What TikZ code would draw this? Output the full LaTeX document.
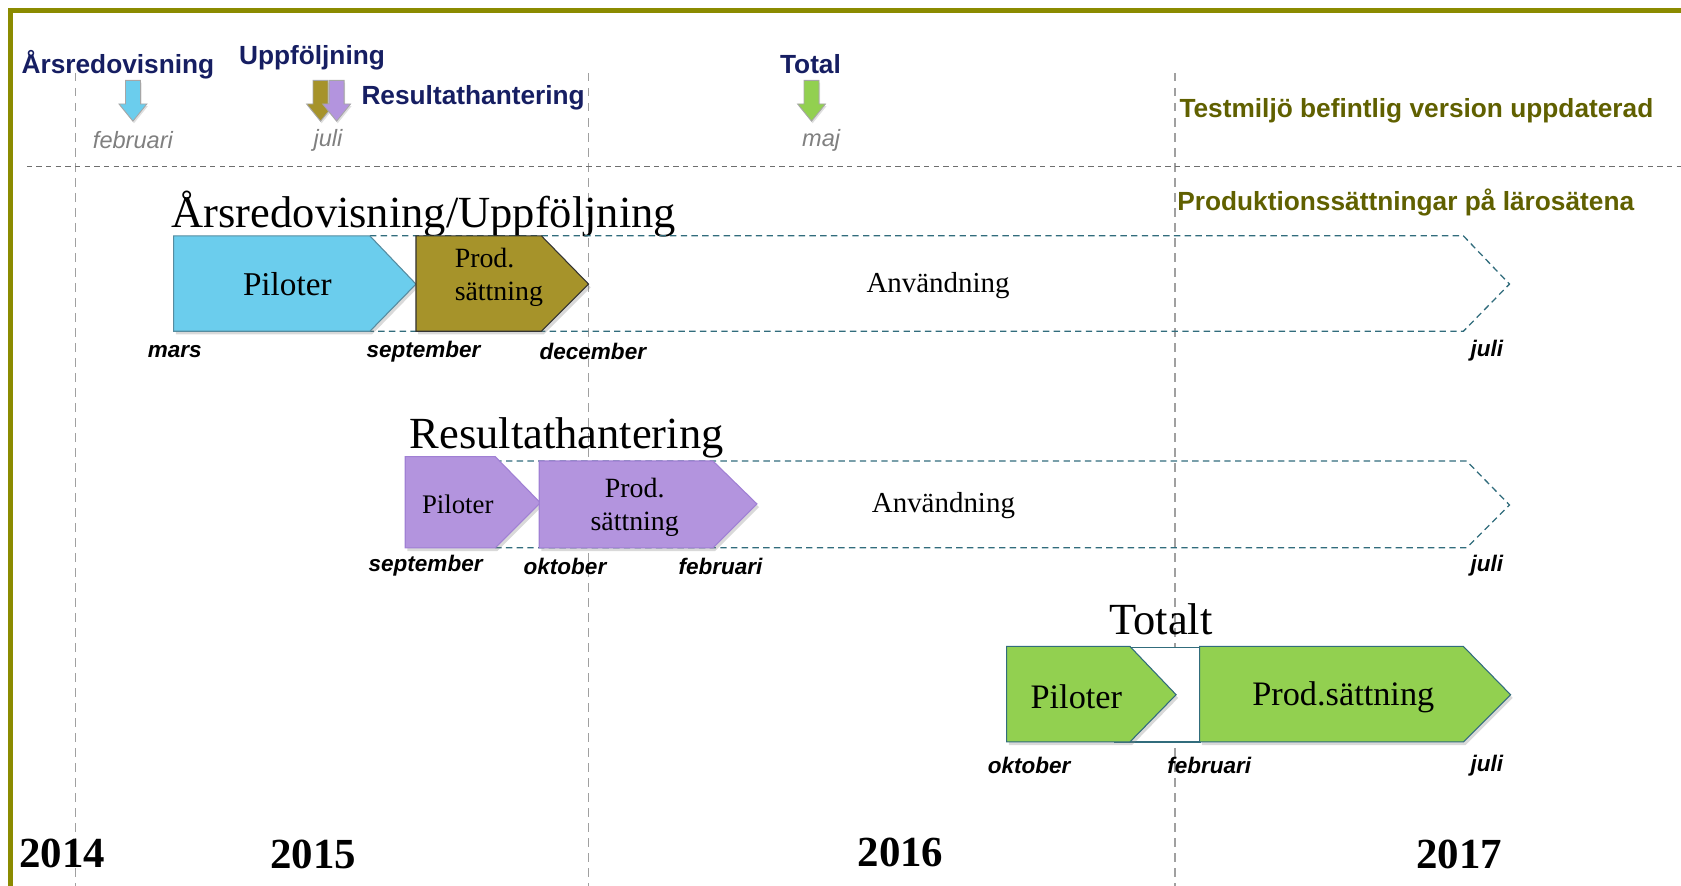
\documentclass[tikz,border=0pt]{standalone}
\usepackage{fontspec}
\setmainfont{Liberation Serif}
\setsansfont{Liberation Sans}
\usetikzlibrary{shadows}

\definecolor{frameolive}{RGB}{139,139,0}
\definecolor{navytext}{RGB}{22,30,98}
\definecolor{olivetext}{RGB}{96,96,0}
\definecolor{monthgray}{RGB}{128,128,128}
\definecolor{skyfill}{RGB}{107,205,237}
\definecolor{skyline}{RGB}{86,140,160}
\definecolor{olivefill}{RGB}{166,147,42}
\definecolor{lilacfill}{RGB}{179,148,222}
\definecolor{lilacline}{RGB}{160,128,212}
\definecolor{grassfill}{RGB}{146,208,80}
\definecolor{tealline}{RGB}{49,108,124}
\definecolor{gridgray}{RGB}{160,160,160}
\definecolor{rulegray}{RGB}{110,110,110}

\tikzset{
  phase/.style={line width=1pt, drop shadow={opacity=0.3, shadow xshift=2pt, shadow yshift=-3pt}},
  usebox/.style={draw=tealline, line width=1.2pt, dash pattern=on 6pt off 4pt},
  gridline/.style={draw=gridgray, line width=1pt, dash pattern=on 8pt off 6pt},
  toplbl/.style={inner sep=0pt, text=navytext, font=\sffamily\bfseries\fontsize{24.5}{24.5}\selectfont},
  olivelbl/.style={inner sep=0pt, text=olivetext, font=\sffamily\bfseries\fontsize{24.5}{24.5}\selectfont},
  graymonth/.style={inner sep=0pt, text=monthgray, font=\sffamily\itshape\fontsize{22}{22}\selectfont},
  monthlbl/.style={inner sep=0pt, font=\sffamily\bfseries\itshape\fontsize{21}{21}\selectfont},
  titlelbl/.style={inner sep=0pt, font=\fontsize{41.5}{41.5}\selectfont},
  phaselbl/.style={inner sep=0pt, align=center, font=\fontsize{26}{31}\selectfont},
  yearlbl/.style={inner sep=0pt, font=\bfseries\fontsize{40}{40}\selectfont}
}

% down arrow above the timeline: #1 = x, #2 = fill colour
\newcommand{\milestonearrow}[2]{%
  \filldraw[fill=#2, draw=gray!70, line width=0.8pt, drop shadow={opacity=0.25, shadow xshift=1pt, shadow yshift=-2pt}]
    (#1-7,75) -- (#1+7,75) -- (#1+7,97) -- (#1+13,97) -- (#1,113) -- (#1-13,97) -- (#1-7,97) -- cycle;}

\begin{document}
\begin{tikzpicture}[x=1pt,y=-1pt]
\useasboundingbox (0,0) rectangle (1568,826);

%Frame
\draw[frameolive, line width=4.5pt] (10,826) -- (10,10) -- (1568,10);

%Grid lines
\foreach \gx in {70,549,1096}
  \draw[gridline] (\gx,68) -- (\gx,826);
\draw[draw=rulegray, line width=1pt, dash pattern=on 5pt off 4pt] (25,155) -- (1568,155);

%Milestone arrows
\milestonearrow{124}{skyfill}
\milestonearrow{299}{olivefill}
\milestonearrow{314}{lilacfill}
\milestonearrow{757}{grassfill}

% Text Node
\node[toplbl] (arsTop) at (110,60) {Årsredovisning};
\node[toplbl] (uppTop) at (291,54) {Uppföljning};
\node[toplbl, anchor=west] (resTop) at (337,91) {Resultathantering};
\node[toplbl] (totTop) at (756,60) {Total};
\node[graymonth] (febTop) at (124,131) {februari};
\node[graymonth] (julTop) at (306,131) {juli};
\node[graymonth] (majTop) at (766,131) {maj};
\node[olivelbl, anchor=west] (testTxt) at (1100,103) {Testmiljö befintlig version uppdaterad};
\node[olivelbl, anchor=west] (prodTxt) at (1098,189) {Produktionssättningar på lärosätena};

%Row: Årsredovisning/Uppföljning
\node[titlelbl, anchor=west] (rowOneTitle) at (160,200) {Årsredovisning/Uppföljning};
\draw[usebox] (345,220) -- (1365,220) -- (1408,265) -- (1365,309) -- (345,309);
\filldraw[phase, fill=skyfill, draw=skyline] (162,220) -- (345,220) -- (388,265) -- (345,309) -- (162,309) -- cycle;
\filldraw[phase, fill=olivefill, draw=black!80] (388,220) -- (505,220) -- (549,265) -- (505,309) -- (388,309) -- cycle;
\node[phaselbl, font=\fontsize{31}{31}\selectfont] (pilOne) at (268,265) {Piloter};
\node[phaselbl, align=left, anchor=west] (prodOne) at (424,259) {Prod.\\sättning};
\node[phaselbl, font=\fontsize{27}{27}\selectfont] (useOne) at (875,266) {Användning};
\node[monthlbl] (marsOne) at (163,328) {mars};
\node[monthlbl] (sepOne) at (395,328) {september};
\node[monthlbl] (decOne) at (553,328) {december};
\node[monthlbl] (julOne) at (1387,327) {juli};

%Row: Resultathantering
\node[titlelbl, anchor=west] (rowTwoTitle) at (382,408) {Resultathantering};
\draw[usebox] (462,430) -- (1368,430) -- (1408,471) -- (1368,511) -- (462,511);
\filldraw[phase, fill=lilacfill, draw=lilacline] (378,426) -- (462,426) -- (504,469) -- (462,511) -- (378,511) -- cycle;
\filldraw[phase, fill=lilacfill, draw=lilacline] (503,430) -- (665,430) -- (706,470) -- (665,511) -- (503,511) -- cycle;
\node[phaselbl, font=\fontsize{25}{25}\selectfont] (pilTwo) at (427,470) {Piloter};
\node[phaselbl] (prodTwo) at (592,473) {Prod.\\sättning};
\node[phaselbl, font=\fontsize{27}{27}\selectfont] (useTwo) at (880,472) {Användning};
\node[monthlbl] (sepTwo) at (397,528) {september};
\node[monthlbl] (oktTwo) at (527,528) {oktober};
\node[monthlbl] (febTwo) at (672,528) {februari};
\node[monthlbl] (julTwo) at (1387,528) {juli};

%Row: Totalt
\node[titlelbl] (rowThreeTitle) at (1083,578) {Totalt};
\draw[draw=tealline, line width=1.2pt, fill=white] (1040,604) rectangle (1120,692);
\filldraw[phase, fill=grassfill, draw=tealline] (939,603) -- (1054,603) -- (1097,648) -- (1054,692) -- (939,692) -- cycle;
\filldraw[phase, fill=grassfill, draw=tealline] (1119,603) -- (1365,603) -- (1409,648) -- (1365,692) -- (1119,692) -- cycle;
\node[phaselbl, font=\fontsize{32}{32}\selectfont] (pilThree) at (1004,650) {Piloter};
\node[phaselbl, font=\fontsize{32}{32}\selectfont] (prodThree) at (1253,650) {Prod.sättning};
\node[monthlbl] (oktThree) at (960,714) {oktober};
\node[monthlbl] (febThree) at (1128,714) {februari};
\node[monthlbl] (julThree) at (1387,714) {juli};

%Years
\node[yearlbl] (yFour) at (58,796) {2014};
\node[yearlbl] (yFive) at (292,797) {2015};
\node[yearlbl] (ySix) at (840,795) {2016};
\node[yearlbl] (ySeven) at (1361,797) {2017};

\end{tikzpicture}
\end{document}
